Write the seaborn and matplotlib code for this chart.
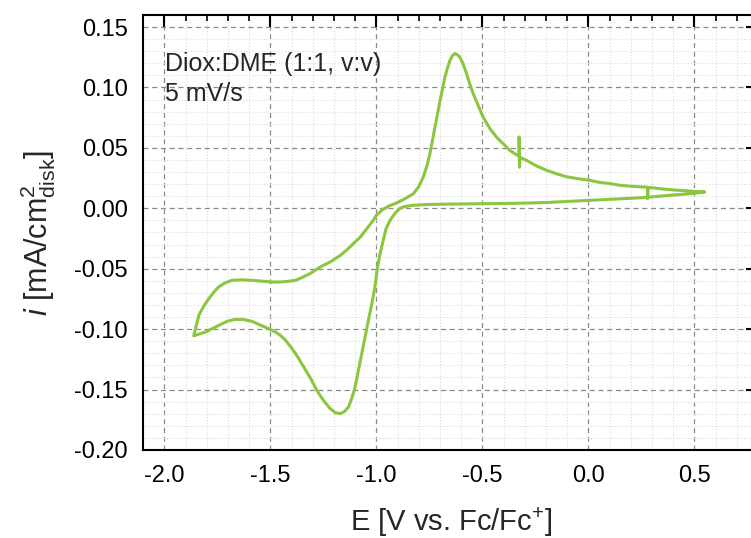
import numpy as np
import pandas as pd
import matplotlib
matplotlib.use('Agg')
import matplotlib.pyplot as plt
from matplotlib.ticker import MultipleLocator, FormatStrFormatter
import seaborn as sns

# cathodic sweep: from the positive vertex down to the negative vertex
E_cathodic = [0.547, 0.49, 0.40, 0.257, 0.10, 0.006, -0.10, -0.198, -0.30, -0.434,
              -0.55, -0.653, -0.75, -0.826, -0.865, -0.889, -0.912, -0.936, -0.955, -0.968,
              -0.983, -0.996, -1.007, -1.022, -1.038, -1.054, -1.069, -1.085, -1.101, -1.116,
              -1.132, -1.150, -1.171, -1.195, -1.218, -1.250, -1.281, -1.31, -1.344, -1.375,
              -1.407, -1.430, -1.454, -1.48, -1.509, -1.55, -1.587, -1.630, -1.666, -1.705,
              -1.744, -1.775, -1.807, -1.835, -1.862]
i_cathodic = [0.0135, 0.0122, 0.0110, 0.0088, 0.0074, 0.0066, 0.0057, 0.0048, 0.0043, 0.0039,
              0.0037, 0.0035, 0.0032, 0.0025, 0.0015, 0.0, -0.004, -0.0099, -0.017, -0.0265,
              -0.0375, -0.050, -0.065, -0.079, -0.0927, -0.107, -0.120, -0.134, -0.148, -0.157,
              -0.1645, -0.168, -0.170, -0.169, -0.1658, -0.159, -0.1507, -0.141, -0.131, -0.122,
              -0.114, -0.109, -0.105, -0.102, -0.0996, -0.0965, -0.0935, -0.0920, -0.0919, -0.0935,
              -0.0969, -0.0995, -0.1024, -0.104, -0.1055]

# anodic sweep: back from the negative vertex to the positive vertex
E_anodic = [-1.850, -1.838, -1.815, -1.791, -1.768, -1.744, -1.715, -1.681, -1.635, -1.587,
            -1.540, -1.493, -1.454, -1.42, -1.383, -1.360, -1.313, -1.266, -1.218, -1.171,
            -1.140, -1.109, -1.077, -1.046, -1.015, -0.999, -0.97, -0.94, -0.904, -0.87,
            -0.826, -0.800, -0.779, -0.762, -0.748, -0.736, -0.724, -0.712, -0.700, -0.688,
            -0.677, -0.665, -0.653, -0.641, -0.630, -0.618, -0.606, -0.590, -0.575, -0.560,
            -0.544, -0.52, -0.497, -0.465, -0.434, -0.40, -0.371, -0.335, -0.327, -0.327,
            -0.325, -0.322, -0.292, -0.25, -0.198, -0.15, -0.10, -0.05, 0.006, 0.05,
            0.10, 0.15, 0.20, 0.257, 0.279, 0.279, 0.282, 0.30, 0.35, 0.40,
            0.429, 0.49, 0.547]
i_anodic = [-0.097, -0.0886, -0.081, -0.0748, -0.0695, -0.065, -0.0618, -0.0596, -0.0592, -0.0596,
            -0.0603, -0.061, -0.061, -0.0605, -0.0596, -0.058, -0.054, -0.0486, -0.0444, -0.039,
            -0.0345, -0.0292, -0.024, -0.017, -0.010, -0.0055, -0.001, 0.002, 0.0045, 0.0075,
            0.012, 0.018, 0.026, 0.035, 0.045, 0.056, 0.067, 0.078, 0.089, 0.099,
            0.1087, 0.116, 0.1225, 0.1265, 0.128, 0.127, 0.125, 0.119, 0.1115, 0.103,
            0.095, 0.085, 0.0756, 0.066, 0.059, 0.053, 0.048, 0.0438, 0.0438, 0.059,
            0.034, 0.042, 0.0397, 0.0355, 0.0315, 0.0285, 0.026, 0.0245, 0.0232, 0.0215,
            0.0205, 0.019, 0.0183, 0.0177, 0.0174, 0.008, 0.0172, 0.0170, 0.0160, 0.0152,
            0.0149, 0.0141, 0.0135]

df = pd.DataFrame({
    'E': E_cathodic + E_anodic,
    'i': i_cathodic + i_anodic,
})

sns.set_style('white')
plt.rcParams['font.family'] = ['Liberation Sans', 'DejaVu Sans']
plt.rcParams['mathtext.fontset'] = 'custom'
plt.rcParams['mathtext.rm'] = 'Liberation Sans'
plt.rcParams['mathtext.it'] = 'Liberation Sans:italic'
plt.rcParams['axes.unicode_minus'] = False

fig = plt.figure(figsize=(7.51, 5.38), dpi=100)
ax = fig.add_axes([0.1908, 0.1636, 0.8185, 0.8086])

sns.lineplot(data=df, x='E', y='i', sort=False, estimator=None,
             color='#8cc63f', linewidth=2.2, ax=ax)

ax.set_xlim(-2.1, 0.8)
ax.set_ylim(-0.20, 0.16)
ax.xaxis.set_major_locator(MultipleLocator(0.5))
ax.xaxis.set_minor_locator(MultipleLocator(0.1))
ax.yaxis.set_major_locator(MultipleLocator(0.05))
ax.yaxis.set_minor_locator(MultipleLocator(0.01))
ax.xaxis.set_major_formatter(FormatStrFormatter('%.1f'))
ax.yaxis.set_major_formatter(FormatStrFormatter('%.2f'))

ax.grid(which='minor', color='#dcdcdc', linestyle=':', linewidth=0.8)
ax.grid(which='major', color='#8a8a8a', linestyle=(0, (4, 3)), linewidth=0.9)
ax.set_axisbelow(True)

for s in ax.spines.values():
    s.set_visible(True)
    s.set_linewidth(1.5)
    s.set_color('black')

ax.tick_params(which='both', direction='in', top=True, right=True, colors='black')
ax.tick_params(which='major', length=8.5, width=1.5, labelsize=17, pad=11)
ax.tick_params(which='minor', length=4, width=1.2)

ax.set_xlabel('E [V vs. Fc/Fc$^{+}$]', fontsize=21, labelpad=13)
ax.set_ylabel(r'$i$ [mA/cm$^2_{\mathrm{disk}}$]', fontsize=22, labelpad=12)

ax.text(0.036, 0.915, 'Diox:DME (1:1, v:v)\n5 mV/s', transform=ax.transAxes,
        fontsize=18, va='top', ha='left', linespacing=1.3)

fig.savefig('out.png', dpi=100)
